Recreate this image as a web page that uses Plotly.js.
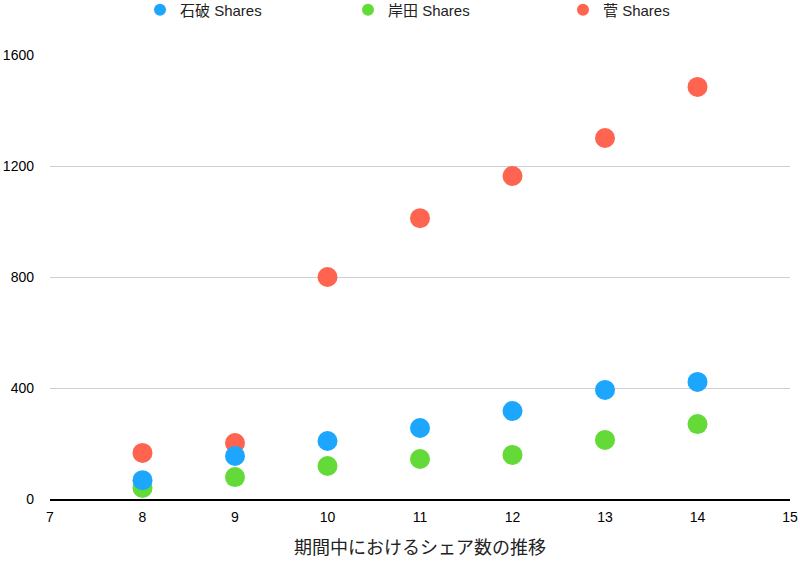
<!DOCTYPE html>
<html>
<head>
<meta charset="utf-8">
<script src="https://cdn.plot.ly/plotly-3.0.1.min.js"></script>
<style>html,body{margin:0;padding:0;background:#fff;}#chart{width:800px;height:566px;}</style>
</head>
<body>
<div id="chart"></div>
<script>
const periods = [8, 9, 10, 11, 12, 13, 14];
const ishibaShares = [68, 155, 209, 256, 317, 393, 422];
const kishidaShares = [40, 79, 119, 144, 159, 213, 270];
const sugaShares = [166, 202, 800, 1012, 1164, 1301, 1485];
const seriesNames = ['石破 Shares', '岸田 Shares', '菅 Shares'];
const xTitle = '期間中におけるシェア数の推移';

const FONT = 'Liberation Sans, Arial, Noto Sans CJK JP, sans-serif';
const mk = (color) => ({size: 20, color: color, line: {width: 0}});

const data = [
  {x: periods, y: kishidaShares, name: seriesNames[1], type: 'scatter', mode: 'markers', marker: mk('rgb(99,218,56)'), legend: 'legend2', cliponaxis: false},
  {x: periods, y: sugaShares, name: seriesNames[2], type: 'scatter', mode: 'markers', marker: mk('rgb(255,100,80)'), legend: 'legend3', cliponaxis: false},
  {x: periods, y: ishibaShares, name: seriesNames[0], type: 'scatter', mode: 'markers', marker: mk('rgb(29,166,253)'), legend: 'legend', cliponaxis: false}
];

const legBase = (xpx) => ({orientation: 'h', xref: 'container', yref: 'container', x: xpx / 800, xanchor: 'left',
  y: 1 - 10 / 566, yanchor: 'middle', itemsizing: 'constant', borderwidth: 0,
  font: {family: FONT, size: 15, color: '#222'}, bgcolor: 'rgba(0,0,0,0)'});

const layout = {
  width: 800, height: 566,
  margin: {l: 50, r: 10, t: 55, b: 67, autoexpand: false},
  paper_bgcolor: '#fff', plot_bgcolor: '#fff',
  font: {family: FONT, size: 14, color: '#000'},
  showlegend: true,
  legend: legBase(140),
  legend2: legBase(348),
  legend3: legBase(563),
  xaxis: {range: [7, 15], dtick: 1, tick0: 7, showgrid: false, zeroline: false,
          showline: true, linecolor: '#000', linewidth: 1.5, ticks: '', ticklabelstandoff: 5,
          tickfont: {family: FONT, size: 14, color: '#000'},
          title: {text: xTitle, font: {family: FONT, size: 18, color: '#222'}, standoff: 17}},
  yaxis: {range: [0, 1600], dtick: 400, tick0: 0, showgrid: true, gridcolor: '#cfcfcf', gridwidth: 1,
          zeroline: false, showline: false, ticks: '', ticklabelstandoff: 15,
          tickfont: {family: FONT, size: 14, color: '#000'}}
};

Plotly.newPlot('chart', data, layout, {displayModeBar: false, staticPlot: true});
</script>
</body>
</html>
